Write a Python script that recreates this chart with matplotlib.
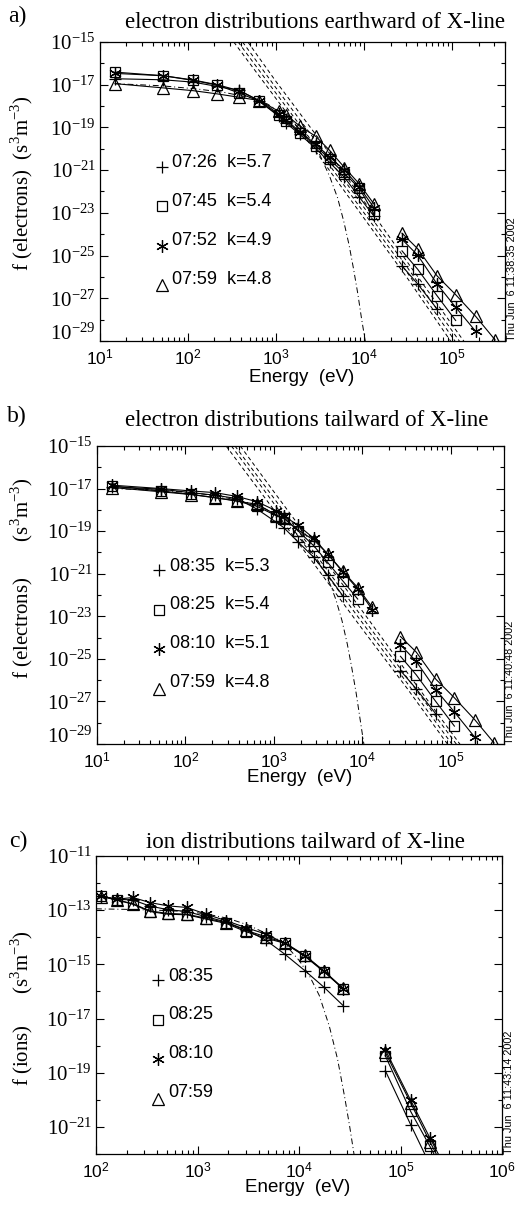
import numpy as np
import matplotlib
matplotlib.use("Agg")
import matplotlib.pyplot as plt
from matplotlib.ticker import FixedLocator, FuncFormatter, NullFormatter
from matplotlib.transforms import ScaledTranslation

SERIF = 'Liberation Serif'
SANS = 'Liberation Sans'
plt.rcParams['font.family'] = SANS
plt.rcParams['axes.linewidth'] = 0.9

###############################################################################
# Values (log10 of f, energies in eV)

# electron energy channels (same instruments for panels a and b)
e_elec_lo = [14.8, 52.5, 115, 215, 383, 648, 1070, 1290, 1870, 2830, 4060, 6000, 8870, 12950]
e_elec_hi = [27000, 40700, 67600, 110000, 186000, 309000]

# panel a: earthward of X-line
a_0726_lo = [-16.72, -16.77, -16.88, -17.08, -17.26, -17.78, -18.47, -18.78, -19.33, -19.98, -20.64, -21.34, -22.27, -23.15]
a_0726_hi = [-25.48, -26.33, -27.50]
a_0745_lo = [-16.41, -16.58, -16.80, -17.02, -17.39, -17.78, -18.43, -18.71, -19.25, -19.87, -20.49, -21.16, -21.85, -23.05]
a_0745_hi = [-24.78, -25.64, -26.88, -28.04]
a_0752_lo = [-16.47, -16.58, -16.78, -17.00, -17.28, -17.74, -18.36, -18.63, -19.20, -19.79, -20.38, -21.00, -21.80, -22.75]
a_0752_hi = [-24.24, -24.98, -26.33, -27.42, -28.55]

# 07:59 appears in both a and b
e_0759_lo = [-16.95, -17.15, -17.28, -17.43, -17.59, -17.74, -18.24, -18.40, -18.94, -19.42, -20.07, -20.88, -21.65, -22.58]
e_0759_hi = [-23.95, -24.68, -25.95, -26.83, -27.85, -28.95]

# panel b: tailward of X-line
b_0835_lo = [-16.91, -17.03, -17.19, -17.31, -17.47, -17.97, -18.59, -18.83, -19.50, -20.23, -21.06, -22.03]
b_0835_hi = [-25.55, -26.41, -27.58]
b_0825_lo = [-16.88, -17.11, -17.27, -17.42, -17.58, -17.84, -18.28, -18.36, -18.98, -19.69, -20.47, -21.33, -22.19]
b_0825_hi = [-24.88, -25.75, -27.00, -28.16]
b_0810_lo = [-16.84, -17.00, -17.11, -17.19, -17.37, -17.62, -18.05, -18.28, -18.72, -19.34, -20.08, -20.91, -21.72, -22.69]
b_0810_hi = [-24.34, -25.12, -26.44, -27.50, -28.67]

# panel c: ions
e_ion_lo = [112, 160, 230, 341, 510, 785, 1220, 1920, 2980, 4690, 7220, 11400, 17700, 27200]
e_ion_hi = [70800, 126000, 195000, 295000]
c_0835_lo = [-12.48, -12.60, -12.62, -12.85, -12.98, -13.05, -13.24, -13.44, -13.72, -14.10, -14.62, -15.23, -15.85, -16.52]
c_0835_hi = [-18.92, -20.92, -22.40]
c_0825_lo = [-12.47, -12.62, -12.78, -13.05, -13.15, -13.17, -13.33, -13.49, -13.79, -14.03, -14.22, -14.70, -15.28, -15.90]
c_0825_hi = [-18.37, -20.43, -21.72, -23.00]
c_0810_lo = [-12.47, -12.60, -12.53, -12.72, -12.84, -12.90, -13.15, -13.39, -13.64, -13.88, -14.22, -14.68, -15.26, -15.90]
c_0810_hi = [-18.15, -20.02, -21.41, -22.70]
c_0759_lo = [-12.50, -12.62, -12.76, -13.03, -13.12, -13.15, -13.30, -13.46, -13.74, -13.98, -14.20, -14.66, -15.25, -15.88]
c_0759_hi = [-18.25, -20.12, -21.55, -22.85]

# maxwellian fits (dash-dot), log10 E vs log10 f
a_maxw_loge = [1.17, 1.70, 2.10, 2.40, 2.70, 2.90, 3.10, 3.30, 3.50, 3.61, 3.70, 3.77, 3.83, 3.88, 3.93, 3.97, 4.01, 4.04]
a_maxw_logf = [-16.95, -17.05, -17.20, -17.35, -17.60, -17.90, -18.40, -19.20, -20.30, -21.30, -22.30, -23.40, -24.50, -25.60, -26.80, -27.90, -28.90, -29.60]
b_maxw_loge = [1.18, 1.70, 2.10, 2.40, 2.70, 2.90, 3.10, 3.30, 3.50, 3.60, 3.70, 3.77, 3.83, 3.88, 3.93, 3.97, 4.01, 4.04]
b_maxw_logf = [-17.00, -17.08, -17.20, -17.38, -17.65, -17.95, -18.45, -19.30, -20.40, -21.10, -22.20, -23.20, -24.30, -25.40, -26.60, -27.70, -28.80, -29.60]
c_maxw_loge = [2.00, 2.30, 2.60, 2.90, 3.10, 3.30, 3.50, 3.70, 3.85, 4.00, 4.10, 4.20, 4.30, 4.38, 4.45, 4.50, 4.55, 4.58]
c_maxw_logf = [-12.95, -12.97, -13.00, -13.05, -13.15, -13.30, -13.55, -13.90, -14.20, -14.85, -15.40, -16.15, -17.30, -18.50, -19.90, -21.00, -22.20, -22.90]

# kappa fits (dashed), one list per time
a_kappa_loge = [[2.52, 3.00, 3.50, 4.00, 4.50, 5.00],
                [2.57, 3.00, 3.50, 4.00, 4.50, 5.05],
                [2.62, 3.00, 3.50, 4.00, 4.50, 5.10],
                [2.68, 3.00, 3.50, 4.00, 4.50, 5.15]]
a_kappa_logf = [[-15.0, -17.65, -20.40, -23.25, -26.10, -29.1],
                [-15.0, -17.40, -20.15, -23.00, -25.85, -29.1],
                [-15.0, -17.15, -19.90, -22.75, -25.60, -29.1],
                [-15.0, -16.85, -19.60, -22.45, -25.35, -29.1]]
b_kappa_loge = [[2.46, 3.00, 3.50, 4.00, 4.50, 4.98],
                [2.52, 3.00, 3.50, 4.00, 4.50, 5.03],
                [2.56, 3.00, 3.50, 4.00, 4.50, 5.08],
                [2.62, 3.00, 3.50, 4.00, 4.50, 5.12]]
b_kappa_logf = [[-15.0, -18.00, -20.80, -23.60, -26.35, -29.1],
                [-15.0, -17.70, -20.50, -23.30, -26.10, -29.1],
                [-15.0, -17.45, -20.25, -23.05, -25.85, -29.1],
                [-15.0, -17.15, -19.95, -22.75, -25.60, -29.1]]

a_labels = ['07:26  k=5.7', '07:45  k=5.4', '07:52  k=4.9', '07:59  k=4.8']
b_labels = ['08:35  k=5.3', '08:25  k=5.4', '08:10  k=5.1', '07:59  k=4.8']
c_labels = ['08:35', '08:25', '08:10', '07:59']

###############################################################################
W, H = 516.0, 1207.0
fig = plt.figure(figsize=(W / 100, H / 100), dpi=100)

MARKERS = [('+', 9), ('s', 7), ((6, 2, 0), 9), ('^', 8)]
DASH = (0, (4, 3))
DASHDOT = (0, (6, 3, 1, 3))


def fx(x):
    return x / W


def fy(y):
    return 1 - y / H


def make_axes(left, top, right, bottom):
    return fig.add_axes([fx(left), fy(bottom), (right - left) / W, (bottom - top) / H])


def setup(ax, xlim, ylim, ymajor, yminor):
    ax.set_xscale('log')
    ax.set_yscale('log')
    ax.set_xlim(*xlim)
    ax.set_ylim(*ylim)
    d0, d1 = int(np.log10(xlim[0])), int(np.ceil(np.log10(xlim[1])))
    ax.xaxis.set_major_locator(FixedLocator([10.0 ** d for d in range(d0, d1 + 1)]))
    ax.xaxis.set_minor_locator(FixedLocator([m * 10.0 ** d for d in range(d0, d1 + 1) for m in range(2, 10)]))
    ax.yaxis.set_major_locator(FixedLocator([10.0 ** d for d in ymajor]))
    ax.yaxis.set_minor_locator(FixedLocator([10.0 ** d for d in yminor]))
    fmt = FuncFormatter(lambda v, p: r'$\mathregular{10^{%d}}$' % round(np.log10(v)))
    ax.xaxis.set_major_formatter(fmt)
    ax.yaxis.set_major_formatter(fmt)
    ax.xaxis.set_minor_formatter(NullFormatter())
    ax.yaxis.set_minor_formatter(NullFormatter())
    ax.tick_params(which='both', direction='in', top=True, right=True, width=0.8)
    ax.tick_params(which='major', length=6)
    ax.tick_params(which='minor', length=3)
    ax.tick_params(axis='x', labelsize=12.5, labelfontfamily=SANS, pad=5)
    ax.tick_params(axis='y', labelsize=15, labelfontfamily=SERIF, pad=3)


def lift_bottom_label(ax, dy=7):
    # lowest y label sits a bit above its tick, clear of the x labels
    lab = ax.yaxis.get_major_ticks()[0].label1
    lab.set_transform(lab.get_transform() + ScaledTranslation(0, dy / 72, fig.dpi_scale_trans))


def series(ax, energies, logf, k):
    m, ms = MARKERS[k]
    ax.plot(energies[:len(logf)], 10.0 ** np.array(logf), color='k', lw=0.8,
            marker=m, ms=ms, mfc='none', mec='k', mew=0.9)


def curve(ax, loge, logf, ls):
    ax.plot(10.0 ** np.array(loge), 10.0 ** np.array(logf), color='k', lw=0.7, ls=ls)


def legend(ax, labels):
    mys = [0.583, 0.450, 0.318, 0.186]
    tys = [0.597, 0.467, 0.337, 0.205]
    for k, lab in enumerate(labels):
        m, ms = MARKERS[k]
        ax.plot([0.152], [mys[k]], transform=ax.transAxes, marker=m, ms=ms,
                mfc='none', mec='k', mew=0.9, ls='none', clip_on=False)
        ax.text(0.179, tys[k], lab, transform=ax.transAxes, fontsize=13,
                family=SANS, ha='left', va='center')


def texts(letter, lxy, title, txy, ylab, ylab_y, xlab_xy, stamp, stamp_xy):
    fig.text(fx(lxy[0]), fy(lxy[1]), letter, family=SERIF, fontsize=17, ha='center', va='center')
    fig.text(fx(txy[0]), fy(txy[1]), title, family=SERIF, fontsize=16.5, ha='center', va='center')
    fig.text(fx(22), fy(ylab_y), ylab, family=SERIF, fontsize=15, rotation=90, ha='center', va='center')
    fig.text(fx(xlab_xy[0]), fy(xlab_xy[1]), 'Energy  (eV)', family=SANS, fontsize=13.5, ha='center', va='center')
    fig.text(fx(stamp_xy[0]), fy(stamp_xy[1]), stamp, family=SANS, fontsize=7.8, rotation=90, ha='center', va='bottom')


units = r'(s$^{\mathregular{3}}$m$^{\mathregular{-3}}$)'

# ---- panel a
ax = make_axes(100, 42, 505, 341)
setup(ax, (10, 4e5), (1e-29, 1e-15), range(-29, -14, 2), range(-28, -15, 2))
lift_bottom_label(ax)
for i in range(4):
    curve(ax, a_kappa_loge[i], a_kappa_logf[i], DASH)
curve(ax, a_maxw_loge, a_maxw_logf, DASHDOT)
for k, (lo, hi) in enumerate([(a_0726_lo, a_0726_hi), (a_0745_lo, a_0745_hi),
                              (a_0752_lo, a_0752_hi), (e_0759_lo, e_0759_hi)]):
    series(ax, e_elec_lo, lo, k)
    series(ax, e_elec_hi, hi, k)
legend(ax, a_labels)
texts('a)', (17, 16), 'electron distributions earthward of X-line', (315, 22),
      'f (electrons)  ' + units, 183, (302, 378), 'Thu Jun  6 11:38:35 2002', (512, 341))

# ---- panel b
ax = make_axes(97, 446, 504, 744)
setup(ax, (10, 4e5), (1e-29, 1e-15), range(-29, -14, 2), range(-28, -15, 2))
lift_bottom_label(ax)
for i in range(4):
    curve(ax, b_kappa_loge[i], b_kappa_logf[i], DASH)
curve(ax, b_maxw_loge, b_maxw_logf, DASHDOT)
for k, (lo, hi) in enumerate([(b_0835_lo, b_0835_hi), (b_0825_lo, b_0825_hi),
                              (b_0810_lo, b_0810_hi), (e_0759_lo, e_0759_hi)]):
    series(ax, e_elec_lo, lo, k)
    series(ax, e_elec_hi, hi, k)
legend(ax, b_labels)
texts('b)', (17, 416), 'electron distributions tailward of X-line', (307, 421),
      'f (electrons)       ' + units, 578, (300, 777), 'Thu Jun  6 11:40:48 2002', (510, 744))

# ---- panel c
ax = make_axes(96, 856, 502, 1154)
setup(ax, (1e2, 1e6), (1e-22, 1e-11), range(-21, -10, 2), range(-22, -11, 2))
curve(ax, c_maxw_loge, c_maxw_logf, DASHDOT)
for k, (lo, hi) in enumerate([(c_0835_lo, c_0835_hi), (c_0825_lo, c_0825_hi),
                              (c_0810_lo, c_0810_hi), (c_0759_lo, c_0759_hi)]):
    series(ax, e_ion_lo, lo, k)
    series(ax, e_ion_hi, hi, k)
legend(ax, c_labels)
texts('c)', (18, 841), 'ion distributions tailward of X-line', (305, 843),
      'f (ions)      ' + units, 1008, (298, 1188), 'Thu Jun  6 11:43:14 2002', (509, 1154))

fig.savefig('out.png', dpi=100)
